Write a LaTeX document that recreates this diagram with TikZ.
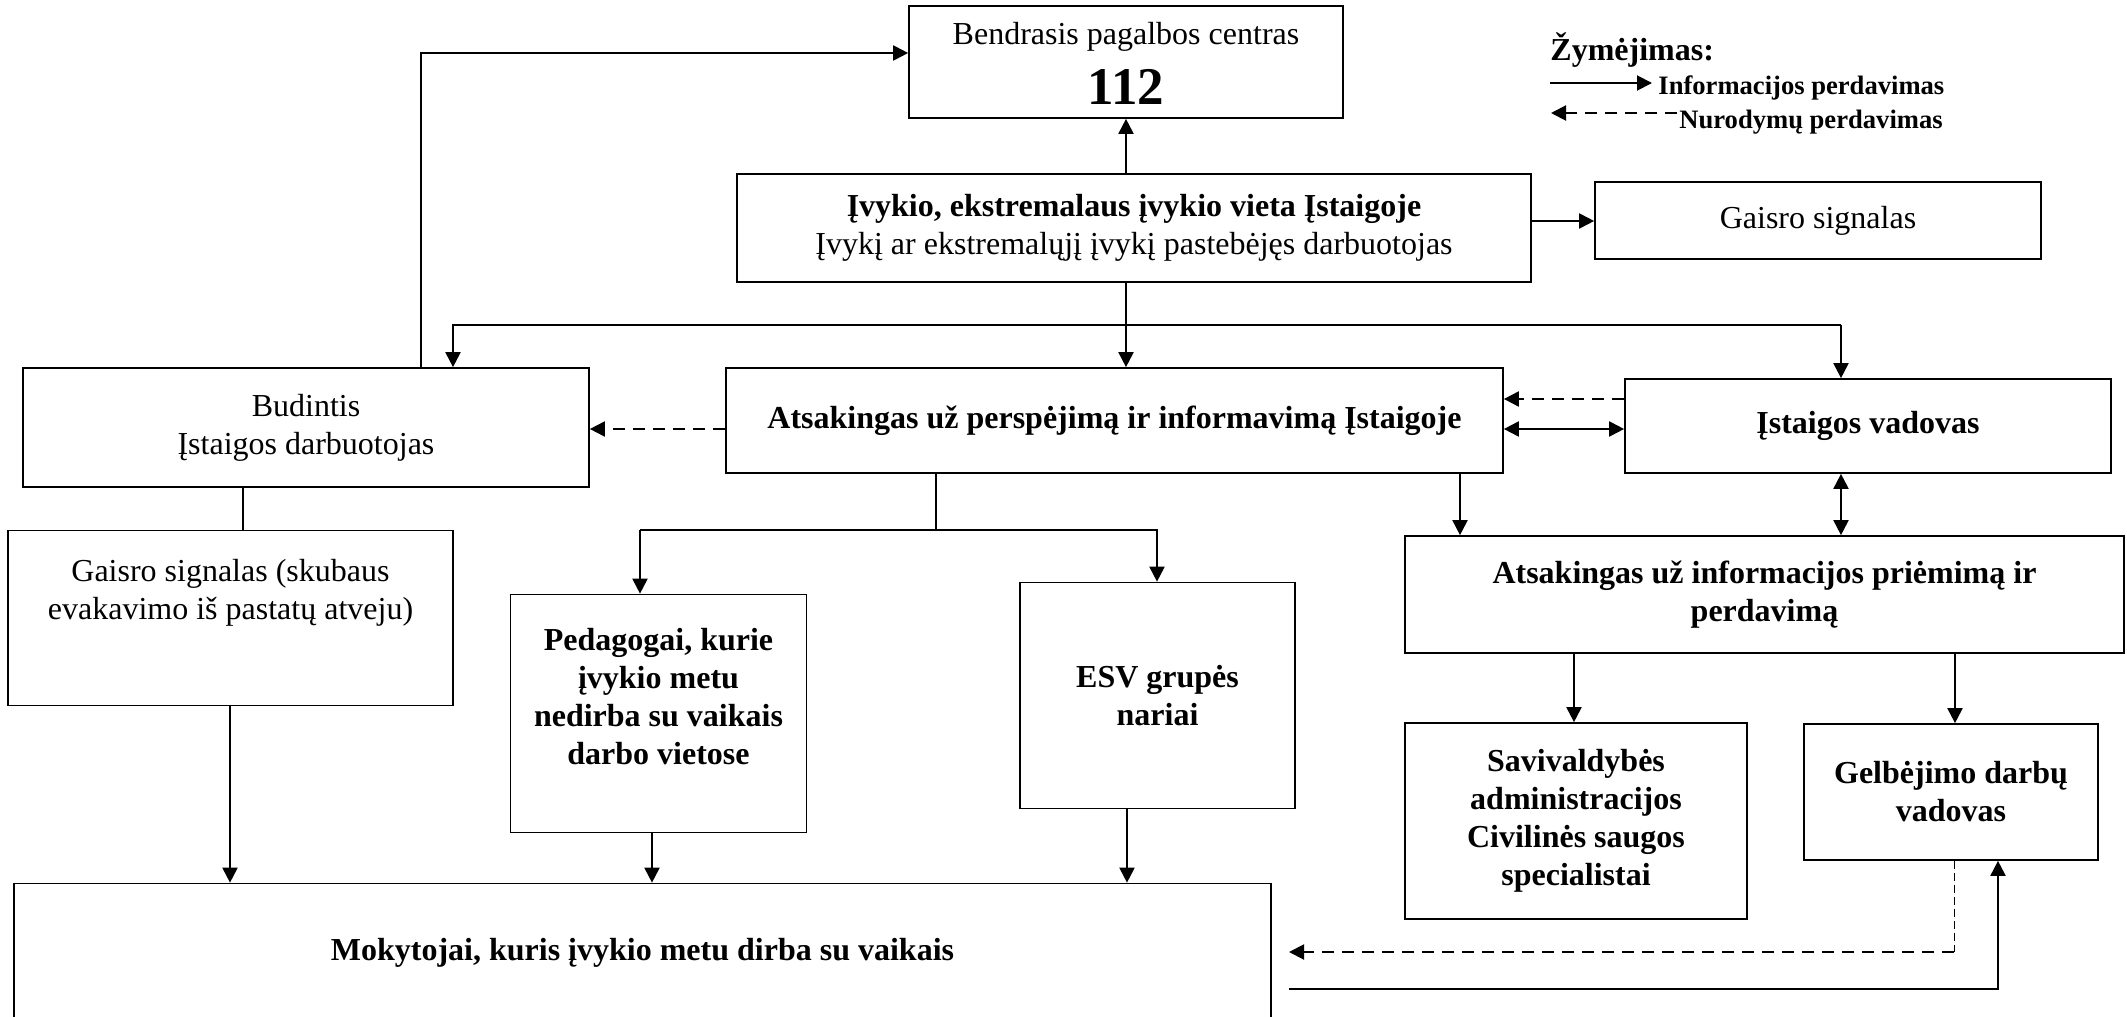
\documentclass[tikz,border=0pt]{standalone}
\usepackage{fontspec}
\setmainfont{Liberation Serif}
\usetikzlibrary{arrows.meta}
\begin{document}
\begin{tikzpicture}[x=0.5pt,y=-0.5pt,
  every node/.style={font=\fontsize{16}{19}\selectfont},
  bx/.style={draw,line width=0.85pt,inner sep=0pt,align=center},
  lbl/.style={inner sep=0pt,align=center},
  bft/.style={font=\fontsize{16}{19}\selectfont\bfseries},
  arr/.style={line width=1pt,-{Triangle[length=7.5pt,width=7.5pt]}},
  darr/.style={line width=1pt,dash pattern=on 6pt off 4pt,-{Triangle[length=7.5pt,width=7.5pt]}},
  dbl/.style={line width=1pt,{Triangle[length=7.5pt,width=7.5pt]}-{Triangle[length=7.5pt,width=7.5pt]}},
  ln/.style={line width=1pt},
  thindash/.style={line width=0.4pt,dash pattern=on 4pt off 2pt}]
\useasboundingbox (0,0) rectangle (2127,1017);
\clip (0,0) rectangle (2127,1017);
\fill[white] (0,0) rectangle (2127,1017);

% boxes
\node[bx,minimum width=217pt,minimum height=56pt] (n112) at (1126,62) {};
\node[lbl] (t112a) at (1126,37) {Bendrasis pagalbos centras};
\node[lbl,font=\fontsize{26.5}{30}\selectfont\bfseries] (t112b) at (1126,87) {112};
\node[bx,minimum width=397pt,minimum height=54pt] (ivykio) at (1134,228) {\textbf{Įvykio, ekstremalaus įvykio vieta Įstaigoje}\\Įvykį ar ekstremalųjį įvykį pastebėjęs darbuotojas};
\node[bx,minimum width=223pt,minimum height=38.5pt] (gaisroA) at (1818,220.5) {Gaisro signalas};
\node[bx,minimum width=283pt,minimum height=59.5pt] (budintis) at (306,427.5) {Budintis\\Įstaigos darbuotojas};
\node[bx,bft,minimum width=388.5pt,minimum height=52.5pt] (atsak) at (1114.5,420.5) {Atsakingas už perspėjimą ir informavimą Įstaigoje};
\node[bx,bft,minimum width=243pt,minimum height=47pt] (vadovas) at (1868,426) {Įstaigos vadovas};
\node[bx,bft,minimum width=359.5pt,minimum height=58.5pt] (info) at (1764.5,594.5) {Atsakingas už informacijos priėmimą ir\\perdavimą};
\node[bx,bft,minimum width=171pt,minimum height=98pt] (saviv) at (1576,821) {Savivaldybės\\administracijos\\Civilinės saugos\\specialistai};
\node[bx,bft,minimum width=147pt,minimum height=68pt] (gelb) at (1951,792) {Gelbėjimo darbų\\vadovas};
\node[bx,minimum width=222.5pt,minimum height=87.5pt] (gaisroB) at (230.5,618) {};
\node[lbl] (gaisroBt) at (230.5,593) {Gaisro signalas (skubaus\\evakavimo iš pastatų atveju)};
\node[bx,minimum width=148pt,minimum height=119pt] (pedag) at (658.5,713.5) {};
\node[lbl,bft] (pedagt) at (658.5,697) {Pedagogai, kurie\\įvykio metu\\nedirba su vaikais\\darbo vietose};
\node[bx,bft,minimum width=137.5pt,minimum height=113pt] (esv) at (1157.5,695.5) {ESV grupės\\nariai};
\node[bx,bft,minimum width=628.5pt,minimum height=69pt] (mokyt) at (642.5,952.5) {Mokytojai, kuris įvykio metu dirba su vaikais};

% legend
\node[lbl,anchor=west,bft] (leg) at (1550,50) {Žymėjimas:};
\node[lbl,anchor=west,font=\fontsize{13.3}{16}\selectfont\bfseries] (leg1) at (1658,88) {Informacijos perdavimas};
\node[lbl,anchor=west,font=\fontsize{13.3}{16}\selectfont\bfseries] (leg2) at (1679,122) {Nurodymų perdavimas};
\coordinate (l1a) at (1550,83);
\coordinate (l1b) at (1652,83);
\coordinate (l2a) at (1677,113);
\coordinate (l2b) at (1551,113);
\draw[arr] (l1a) -- (l1b);
\draw[darr] (l2a) -- (l2b);

% connectors
\draw[arr] (ivykio.north -| n112.south) -- (n112.south);
\draw[arr] (ivykio.east |- 0,221) -- (gaisroA.west |- 0,221);
\draw[arr] (ivykio.south -| n112.south) -- (atsak.north -| n112.south);
\coordinate (jL) at (453,325);
\coordinate (jR) at (1841,325);
\draw[arr] (jR) -- (jL) -- (budintis.north -| jL);
\draw[arr] (jR) -- (vadovas.north -| jR);
\coordinate (bu) at (421,53);
\draw[arr] (budintis.north -| bu) |- (n112.west |- bu);
\coordinate (dy1) at (0,429);
\coordinate (dy2) at (0,399);
\draw[darr] (atsak.west |- dy1) -- (budintis.east |- dy1);
\draw[darr] (vadovas.west |- dy2) -- (atsak.east |- dy2);
\draw[dbl] (atsak.east |- dy1) -- (vadovas.west |- dy1);
\coordinate (ax) at (1460,0);
\draw[arr] (atsak.south -| ax) -- (info.north -| ax);
\draw[dbl] (vadovas.south -| jR) -- (info.north -| jR);
\coordinate (i1) at (1574,0);
\coordinate (i2) at (1955,0);
\draw[arr] (info.south -| i1) -- (saviv.north -| i1);
\draw[arr] (info.south -| i2) -- (gelb.north -| i2);
\coordinate (kM) at (936,530);
\coordinate (kL) at (640,530);
\coordinate (kR) at (1157,530);
\draw[ln] (atsak.south -| kM) -- (kM);
\draw[arr] (kL) -- (kR) -- (esv.north -| kR);
\draw[arr] (kL) -- (pedag.north -| kL);
\coordinate (bs) at (243,0);
\draw[ln] (budintis.south -| bs) -- (gaisroB.north -| bs);
\coordinate (m1) at (230,0);
\coordinate (m2) at (652,0);
\coordinate (m3) at (1127,0);
\draw[arr] (gaisroB.south -| m1) -- (mokyt.north -| m1);
\draw[arr] (pedag.south -| m2) -- (mokyt.north -| m2);
\draw[arr] (esv.south -| m3) -- (mokyt.north -| m3);
\coordinate (dc) at (1954,952);
\coordinate (dend) at (1289,952);
\draw[thindash] (gelb.south -| dc) -- (dc);
\draw[darr] (dc) -- (dend);
\coordinate (sst) at (1289,989);
\coordinate (sx) at (1998,989);
\draw[arr] (sst) -- (sx) -- (gelb.south -| sx);
\end{tikzpicture}
\end{document}
